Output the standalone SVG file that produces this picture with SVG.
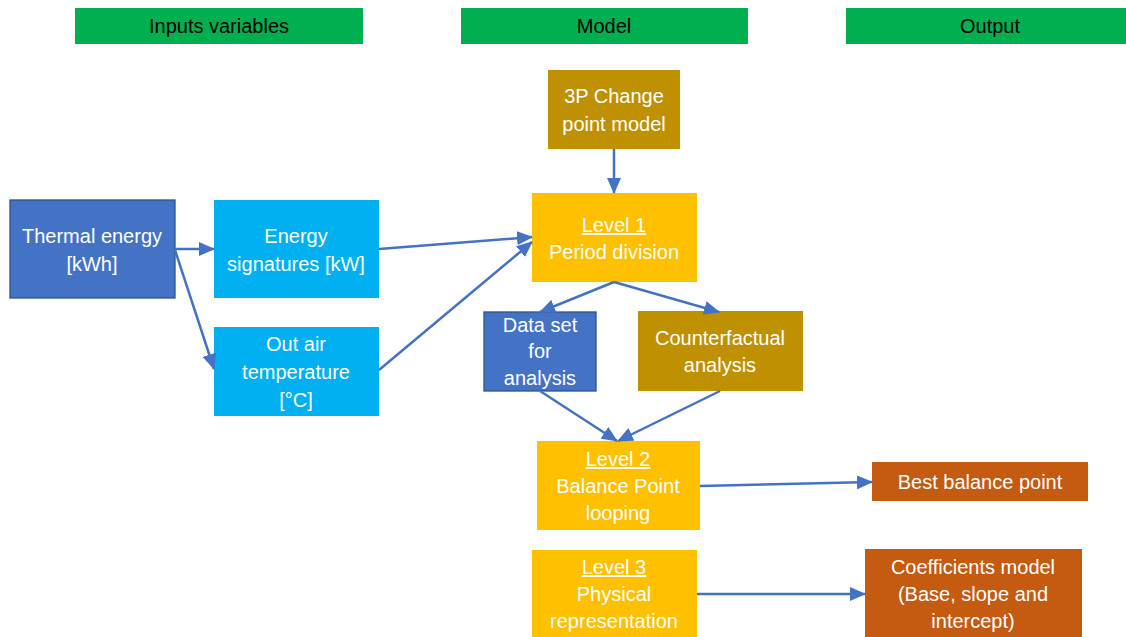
<svg xmlns="http://www.w3.org/2000/svg" width="1126" height="637" viewBox="0 0 1126 637">
  <style>
    .hdr { fill: #00B050; }
    .hdr-t { font-family: "Liberation Sans", Arial, sans-serif; font-size: 20px; fill: #000; text-anchor: middle; }
    .t { font-family: "Liberation Sans", Arial, sans-serif; font-size: 20px; fill: #fff; text-anchor: middle; }
    .u { text-decoration: underline; }
    .blue { fill: #4472C4; stroke: #2F528F; stroke-width: 1.3; }
    .cyan { fill: #00B0F0; }
    .gold { fill: #BF9000; }
    .amber { fill: #FFC000; }
    .rust { fill: #C55A11; }
    .conn line { stroke: #4472C4; stroke-width: 2.5; marker-end: url(#arr); }
  </style>
  <defs>
    <marker id="arr" markerUnits="userSpaceOnUse" markerWidth="16" markerHeight="14" refX="15" refY="7" orient="auto">
      <path d="M0,0 L16,7 L0,14 Z" fill="#4472C4"/>
    </marker>
  </defs>
  <rect width="1126" height="637" fill="#fff"/>

  <!-- column headers -->
  <g id="hdr-inputs"><rect class="hdr" x="75" y="8" width="288" height="36"/><text class="hdr-t" x="219" y="33">Inputs variables</text></g>
  <g id="hdr-model"><rect class="hdr" x="461" y="8" width="287" height="36"/><text class="hdr-t" x="604" y="33">Model</text></g>
  <g id="hdr-output"><rect class="hdr" x="846" y="8" width="280" height="36"/><text class="hdr-t" x="990" y="33">Output</text></g>

  <!-- input nodes -->
  <g id="thermal"><rect class="blue" x="10" y="200" width="165" height="98"/>
    <text class="t" x="92" y="243">Thermal energy</text><text class="t" x="92" y="271">[kWh]</text></g>
  <g id="signatures"><rect class="cyan" x="214" y="200" width="165" height="98"/>
    <text class="t" x="296" y="243">Energy</text><text class="t" x="296" y="271">signatures [kW]</text></g>
  <g id="outair"><rect class="cyan" x="214" y="327" width="165" height="89"/>
    <text class="t" x="296" y="351">Out air</text><text class="t" x="296" y="379">temperature</text><text class="t" x="296" y="407">[°C]</text></g>

  <!-- model nodes -->
  <g id="changepoint"><rect class="gold" x="548" y="70" width="132" height="79"/>
    <text class="t" x="614" y="103">3P Change</text><text class="t" x="614" y="131">point model</text></g>
  <g id="level1"><rect class="amber" x="532" y="193" width="165" height="89"/>
    <text class="t u" x="614" y="232">Level 1</text><text class="t" x="614" y="259">Period division</text></g>
  <g id="dataset"><rect class="blue" x="484" y="312" width="112" height="79"/>
    <text class="t" x="540" y="332">Data set</text><text class="t" x="540" y="358">for</text><text class="t" x="540" y="385">analysis</text></g>
  <g id="counterfactual"><rect class="gold" x="638" y="311" width="165" height="80"/>
    <text class="t" x="720" y="345">Counterfactual</text><text class="t" x="720" y="372">analysis</text></g>
  <g id="level2"><rect class="amber" x="537" y="441" width="163" height="89"/>
    <text class="t u" x="618" y="466">Level 2</text><text class="t" x="618" y="493">Balance Point</text><text class="t" x="618" y="520">looping</text></g>
  <g id="level3"><rect class="amber" x="532" y="550" width="165" height="90"/>
    <text class="t u" x="614" y="574">Level 3</text><text class="t" x="614" y="601">Physical</text><text class="t" x="614" y="628">representation</text></g>

  <!-- output nodes -->
  <g id="balance"><rect class="rust" x="872" y="462" width="216" height="39"/>
    <text class="t" x="980" y="489">Best balance point</text></g>
  <g id="coefficients"><rect class="rust" x="865" y="549" width="217" height="91"/>
    <text class="t" x="973" y="574">Coefficients model</text><text class="t" x="973" y="601">(Base, slope and</text><text class="t" x="973" y="628">intercept)</text></g>

  <!-- connectors -->
  <g id="connectors" class="conn">
    <line x1="175" y1="249" x2="214" y2="249"/>
    <line x1="175" y1="250" x2="214" y2="369"/>
    <line x1="379" y1="249" x2="532" y2="237"/>
    <line x1="379" y1="370" x2="532" y2="242"/>
    <line x1="614" y1="149" x2="614" y2="193"/>
    <line x1="614" y1="282" x2="540" y2="312"/>
    <line x1="614" y1="282" x2="719" y2="312"/>
    <line x1="540" y1="391" x2="617" y2="441"/>
    <line x1="720" y1="391" x2="618" y2="441"/>
    <line x1="700" y1="486" x2="872" y2="482"/>
    <line x1="697" y1="594" x2="865" y2="594"/>
  </g>
</svg>
